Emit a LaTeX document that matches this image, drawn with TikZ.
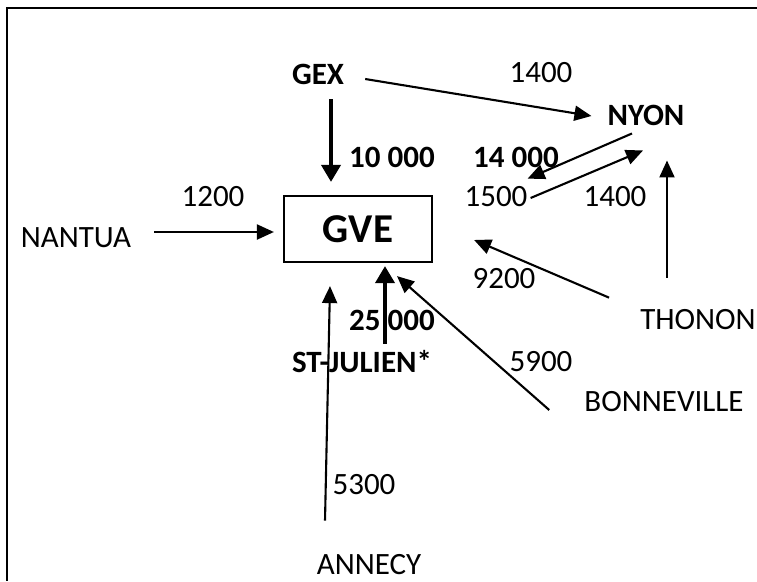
\documentclass[tikz,border=0pt]{standalone}
\usepackage{fontspec}
\setmainfont{Carlito}
\usetikzlibrary{arrows.meta,positioning}

\begin{document}
\begin{tikzpicture}[x=1pt, y=-1pt,
    every node/.style={font=\fontsize{31}{37}\selectfont, inner sep=0pt},
    hub/.style={font=\fontsize{31}{37}\selectfont\bfseries},
    flow/.style={-{Triangle[length=17pt,width=15pt]}, line width=2.1pt},
    bigflow/.style={-{Triangle[length=17pt,width=19pt]}, line width=3.8pt}]
        \useasboundingbox (0,0) rectangle (757,581);
        % frame
        \draw[line width=2pt] (757,8) -- (7,8) -- (7,581);
        % places
        \node[draw, line width=2.2pt, minimum width=148pt, minimum height=66pt, font=\fontsize{41}{48}\selectfont\bfseries] (gve) at (358,229) {GVE\hspace{20pt}};
        \node[hub] (gex) at (318,74) {GEX};
        \node[hub] (nyon) at (646,115) {NYON};
        \node (nantua) at (76,238) {NANTUA};
        \node (thonon) at (698,320) {THONON};
        \node[hub] (stjulien) at (362,362) {ST-JULIEN*};
        \node (bonneville) at (664,402) {BONNEVILLE};
        \node (annecy) at (369,565) {ANNECY};
        % flow figures
        \node (v1400a) at (541,73) {1400};
        \node[hub] (v10000) at (392,157) {10 000};
        \node[hub] (v14000) at (516,157) {14 000};
        \node (v1200) at (213,197) {1200};
        \node (v1500) at (496,197) {1500};
        \node (v1400b) at (615,197) {1400};
        \node (v9200) at (504,279) {9200};
        \node[hub] (v25000) at (392,320) {25 000};
        \node (v5900) at (541,362) {5900};
        \node (v5300) at (364,485) {5300};
        % flows
        \draw[bigflow] ([shift={(13,15)}]gex.south) -- ([shift={(-27,-13)}]gve.north);
        \draw[flow] ([shift={(21,5)}]gex.east) -- ([shift={(-16,1)}]nyon.west);
        \draw[flow] ([shift={(-14,8)}]nyon.south) -- ([shift={(0,-8)}]v1500.north east);
        \draw[flow] ([shift={(3,1)}]v1500.east) -- ([shift={(-3,25)}]nyon.south);
        \draw[flow] ([shift={(-31,-32)}]thonon.north) -- ([shift={(21,35)}]nyon.south);
        \draw[flow] ([shift={(-31,-12)}]thonon.north west) -- ([shift={(41,11)}]gve.east);
        \draw[flow] ([shift={(-35,8)}]bonneville.west) -- ([shift={(39,13)}]gve.south);
        \draw[bigflow] ([shift={(23,-7)}]stjulien.north) -- ([shift={(27,3)}]gve.south);
        \draw[flow] ([shift={(-44,-34)}]annecy.north) -- ([shift={(-28,23)}]gve.south);
        \draw[flow] ([shift={(23,-6)}]nantua.east) -- ([shift={(-9,3)}]gve.west);
    \end{tikzpicture}
\end{document}
